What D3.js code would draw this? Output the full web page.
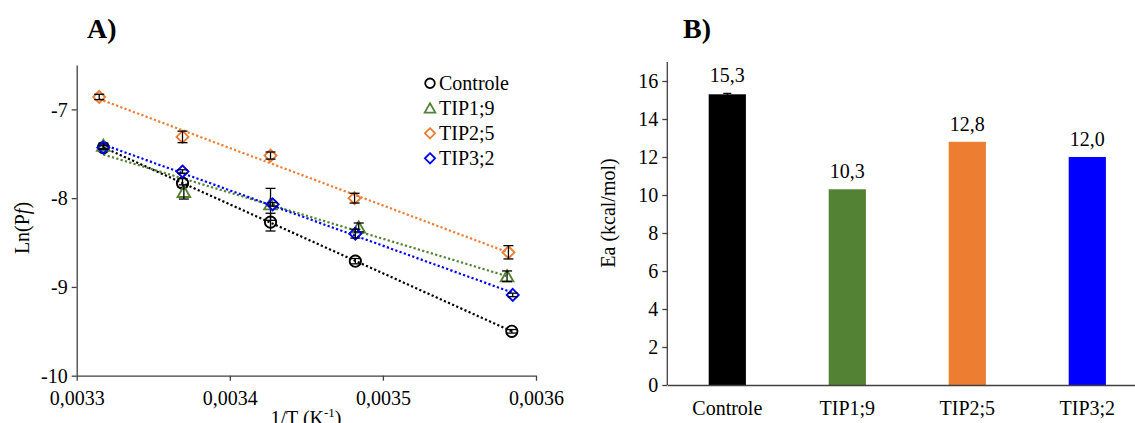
<!DOCTYPE html>
<html>
<head>
<meta charset="utf-8">
<script src="https://cdn.jsdelivr.net/npm/d3@7"></script>
<style>
  body { margin: 0; background: #fff; }
  svg text { font-family: "Liberation Serif", "Times New Roman", Times, serif; fill: #000; }
</style>
</head>
<body>
<svg id="fig" width="1135" height="423"></svg>
<script>
// ---- data A) Arrhenius plot ----
var seriesNames = ["Controle", "TIP1;9", "TIP2;5", "TIP3;2"];
var seriesColors = ["#000000", "#548235", "#ED7D31", "#0000FF"];
var seriesShapes = ["circle", "triangle", "diamond", "diamond"];

var ctrlX = [0.0033174, 0.0033691, 0.0034266, 0.0034820, 0.0035842];
var ctrlY = [-7.43, -7.83, -8.27, -8.71, -9.50];
var ctrlErr = [0.03, 0.05, 0.10, 0.03, 0.02];

var tip19X = [0.0033174, 0.0033700, 0.0034266, 0.0034842, 0.0035811];
var tip19Y = [-7.41, -7.93, -8.07, -8.33, -8.88];
var tip19Err = [0.03, 0.08, 0.18, 0.05, 0.06];

var tip25X = [0.0033147, 0.0033691, 0.0034266, 0.0034815, 0.0035820];
var tip25Y = [-6.86, -7.31, -7.52, -8.00, -8.61];
var tip25Err = [0.03, 0.065, 0.04, 0.055, 0.075];

var tip32X = [0.0033174, 0.0033691, 0.0034280, 0.0034820, 0.0035848];
var tip32Y = [-7.43, -7.70, -8.07, -8.40, -9.09];
var tip32Err = [0.02, 0.02, 0.02, 0.05, 0.02];

var xTicksA = [0.0033, 0.0034, 0.0035, 0.0036];
var yTicksA = [-10, -9, -8, -7];

// ---- data B) activation energy ----
var barCats = ["Controle", "TIP1;9", "TIP2;5", "TIP3;2"];
var barVals = [15.3, 10.3, 12.8, 12.0];
var barErr = [0.05, 0, 0, 0];
var yTicksB = [0, 2, 4, 6, 8, 10, 12, 14, 16];

var svg = d3.select("#fig");
var axisColor = "#404040";

function comma(v, digits) {
  return v.toFixed(digits).replace(".", ",");
}

function shapePath(shape) {
  if (shape === "circle") return d3.symbol().type(d3.symbolCircle).size(100)();
  if (shape === "triangle") return "M0,-6L6.3,5L-6.3,5Z";
  return "M0,-6L6,0L0,6L-6,0Z";
}

function linReg(xs, ys) {
  var n = xs.length, mx = d3.mean(xs), my = d3.mean(ys);
  var sxy = 0, sxx = 0;
  for (var i = 0; i < n; i++) {
    sxy += (xs[i] - mx) * (ys[i] - my);
    sxx += (xs[i] - mx) * (xs[i] - mx);
  }
  var b = sxy / sxx;
  return {b: b, a: my - b * mx};
}

//--------------------------------------------------------------------
function drawScatter() {
  var g = svg.append("g").attr("class", "chartA");
  var x = d3.scaleLinear().domain([0.0033, 0.0036]).range([76.7, 536]);
  var y = d3.scaleLinear().domain([-10, -6.5]).range([375.7, 65]);

  // axes
  var xAxis = d3.axisBottom(x).tickValues(xTicksA).tickSize(5).tickSizeOuter(0)
    .tickFormat(function(d) { return comma(d, 4); });
  var xEl = g.append("g").attr("transform", "translate(0," + y(-10) + ")").call(xAxis);
  var yAxis = d3.axisLeft(y).tickValues(yTicksA).tickSize(5).tickSizeOuter(0)
    .tickFormat(function(d) { return d; });
  var yEl = g.append("g").attr("transform", "translate(" + x(0.0033) + ",0)").call(yAxis);
  [xEl, yEl].forEach(function(el) {
    el.attr("font-family", null);
    el.selectAll("path, line").attr("stroke", axisColor).attr("stroke-width", 1.3);
    el.selectAll("text").attr("font-size", 20);
  });
  xEl.selectAll("text").attr("dy", "1.05em");
  yEl.selectAll("text").attr("x", -9).attr("dy", "0.34em");

  var xs = [ctrlX, tip19X, tip25X, tip32X];
  var ys = [ctrlY, tip19Y, tip25Y, tip32Y];
  var es = [ctrlErr, tip19Err, tip25Err, tip32Err];

  // trend lines (dotted, least squares)
  for (var s = 0; s < 4; s++) {
    var r = linReg(xs[s], ys[s]);
    var x0 = d3.min(xs[s]), x1 = d3.max(xs[s]);
    g.append("line")
      .attr("x1", x(x0)).attr("y1", y(r.a + r.b * x0))
      .attr("x2", x(x1)).attr("y2", y(r.a + r.b * x1))
      .attr("stroke", seriesColors[s])
      .attr("stroke-width", 2.2)
      .attr("stroke-dasharray", "2.2,2.3");
  }

  // markers, then error bars on top
  for (var s = 0; s < 4; s++) {
    var pts = xs[s].map(function(v, i) { return {x: v, y: ys[s][i], e: es[s][i]}; });
    var sg = g.append("g");
    sg.selectAll(".mk").data(pts).enter().append("path")
      .attr("class", "mk")
      .attr("d", shapePath(seriesShapes[s]))
      .attr("transform", function(d) { return "translate(" + x(d.x) + "," + y(d.y) + ")"; })
      .attr("fill", "none")
      .attr("stroke", seriesColors[s])
      .attr("stroke-width", 1.9);
    var eb = sg.selectAll(".eb").data(pts).enter().append("g").attr("class", "eb");
    eb.append("line")
      .attr("x1", function(d) { return x(d.x); }).attr("x2", function(d) { return x(d.x); })
      .attr("y1", function(d) { return y(d.y + d.e); }).attr("y2", function(d) { return y(d.y - d.e); })
      .attr("stroke", "#000").attr("stroke-width", 1.3);
    [1, -1].forEach(function(sign) {
      eb.append("line")
        .attr("x1", function(d) { return x(d.x) - 5; }).attr("x2", function(d) { return x(d.x) + 5; })
        .attr("y1", function(d) { return y(d.y + sign * d.e); })
        .attr("y2", function(d) { return y(d.y + sign * d.e); })
        .attr("stroke", "#000").attr("stroke-width", 1.3);
    });
  }

  // legend
  var leg = g.append("g").attr("id", "legendA");
  seriesNames.forEach(function(name, i) {
    var ly = 83.3 + i * 25;
    leg.append("path")
      .attr("d", shapePath(seriesShapes[i]))
      .attr("transform", "translate(430," + ly + ") scale(0.85)")
      .attr("fill", "none").attr("stroke", seriesColors[i]).attr("stroke-width", 2.1);
    leg.append("text").attr("x", 439).attr("y", ly + 7).attr("font-size", 20).text(name);
  });

  // labels
  g.append("text").attr("x", 87).attr("y", 37.5)
    .attr("font-size", 28).attr("font-weight", "bold").text("A)");
  var yl = g.append("text")
    .attr("transform", "translate(29,228) rotate(-90)")
    .attr("text-anchor", "middle").attr("font-size", 20);
  yl.append("tspan").text("Ln(P");
  yl.append("tspan").attr("font-style", "italic").text("f");
  yl.append("tspan").text(")");
  var xl = g.append("text").attr("x", 306).attr("y", 425)
    .attr("text-anchor", "middle").attr("font-size", 20);
  xl.append("tspan").text("1/T (K");
  xl.append("tspan").attr("font-size", 13).attr("dy", -8).text("-1");
  xl.append("tspan").attr("dy", 8).text(")");
}

//--------------------------------------------------------------------
function drawBars() {
  var g = svg.append("g").attr("class", "chartB");
  var x = d3.scaleBand().domain(barCats).range([667.3, 1147.3]).paddingInner(0.69).paddingOuter(0.345);
  var y = d3.scaleLinear().domain([0, 17]).range([385, 62]);

  g.selectAll("rect").data(barCats).enter().append("rect")
    .attr("x", function(d) { return x(d); })
    .attr("y", function(d, i) { return y(barVals[i]); })
    .attr("width", x.bandwidth())
    .attr("height", function(d, i) { return y(0) - y(barVals[i]); })
    .attr("fill", function(d, i) { return seriesColors[i]; });

  // error bars
  barCats.forEach(function(c, i) {
    if (barErr[i] <= 0) return;
    var cx = x(c) + x.bandwidth() / 2;
    g.append("line").attr("x1", cx).attr("x2", cx)
      .attr("y1", y(barVals[i] + barErr[i])).attr("y2", y(barVals[i] - barErr[i]))
      .attr("stroke", "#000").attr("stroke-width", 1.2);
    g.append("line").attr("x1", cx - 4).attr("x2", cx + 4)
      .attr("y1", y(barVals[i] + barErr[i])).attr("y2", y(barVals[i] + barErr[i]))
      .attr("stroke", "#000").attr("stroke-width", 1.2);
  });

  // value labels
  g.selectAll(".val").data(barCats).enter().append("text")
    .attr("class", "val")
    .attr("x", function(d) { return x(d) + x.bandwidth() / 2; })
    .attr("y", function(d, i) { return y(barVals[i] + barErr[i]) - 11; })
    .attr("text-anchor", "middle").attr("font-size", 20)
    .text(function(d, i) { return comma(barVals[i], 1); });

  // axes
  var yAxis = d3.axisLeft(y).tickValues(yTicksB).tickSize(5).tickSizeOuter(0);
  var yEl = g.append("g").attr("transform", "translate(667.3,0)").call(yAxis);
  yEl.select(".domain").attr("d", "M0," + y(17) + "V" + y(0));
  var xAxis = d3.axisBottom(x).tickSize(0).tickSizeOuter(0);
  var xEl = g.append("g").attr("transform", "translate(0," + y(0) + ")").call(xAxis);
  [xEl, yEl].forEach(function(el) {
    el.attr("font-family", null);
    el.selectAll("path, line").attr("stroke", axisColor).attr("stroke-width", 1.3);
    el.selectAll("text").attr("font-size", 20);
  });
  xEl.selectAll("text").attr("y", 30).attr("dy", 0);
  yEl.selectAll("text").attr("x", -9).attr("dy", "0.34em");

  g.append("text").attr("x", 683).attr("y", 37.5)
    .attr("font-size", 28).attr("font-weight", "bold").text("B)");
  g.append("text")
    .attr("transform", "translate(615,213) rotate(-90)")
    .attr("text-anchor", "middle").attr("font-size", 20)
    .text("Ea (kcal/mol)");
}

drawScatter();
drawBars();
</script>
</body>
</html>
